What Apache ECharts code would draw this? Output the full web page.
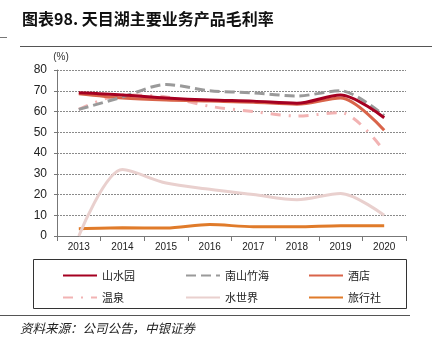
<!DOCTYPE html>
<html>
<head>
    <meta charset="utf-8">
    <title>天目湖主要业务产品毛利率</title>
    <script src="https://cdn.jsdelivr.net/npm/echarts@6/dist/echarts.min.js"></script>
    <style>
        html, body { margin: 0; padding: 0; background: #fff; }
        #chart { width: 432px; height: 351px; }
    </style>
</head>
<body>
    <div id="chart"></div>
    <script>
        var years = ['2013', '2014', '2015', '2016', '2017', '2018', '2019', '2020'];
        var shanshuiyuan = [69, 68, 66.5, 65.5, 65, 64, 68, 57];
        var nanshan = [61, 67, 73, 70, 69, 67.5, 70, 58];
        var jiudian = [68.5, 66.5, 65.5, 65, 64.5, 63.5, 66.5, 51];
        var wenquan = [61, 68, 67, 62.5, 60, 57.8, 59.5, 41];
        var shuishijie = [0, 32, 25.5, 22.5, 20, 17.5, 20.5, 10];
        var lvxingshe = [3.5, 4, 3.8, 5.5, 4.5, 4.5, 5, 5];

        var names = ['山水园', '南山竹海', '酒店', '温泉', '水世界', '旅行社'];
        var colors = ['#A50021', '#9A9A9A', '#D9644A', '#F2B3B3', '#E9D0CE', '#E07B2A'];
        var dashes = ['solid', [10, 5], 'solid', [10, 8, 2, 8], 'solid', 'solid'];
        var datas = [shanshuiyuan, nanshan, jiudian, wenquan, shuishijie, lvxingshe];

        var chart = echarts.init(document.getElementById('chart'));

        var series = [];
        var legends = [];
        var legendPos = [[57, 265], [180, 265], [303, 265], [57, 287], [180, 287], [303, 287]];
        for (var i = 0; i < names.length; i++) {
            series.push({
                name: names[i],
                type: 'line',
                data: datas[i],
                smooth: 0.3,
                symbol: 'none',
                lineStyle: { color: colors[i], width: 3, type: dashes[i] },
                itemStyle: { color: colors[i] },
                z: 10 - i
            });
            legends.push({
                data: [names[i]],
                left: legendPos[i][0],
                top: legendPos[i][1],
                itemWidth: 34,
                itemHeight: 3,
                itemGap: 2,
                itemStyle: { opacity: 0 },
                textStyle: { fontFamily: 'Noto Sans CJK SC', fontSize: 11, color: '#222' },
                selectedMode: false
            });
        }

        var option = {
            animation: false,
            grid: { left: 57, right: 26, top: 70, bottom: 115 },
            legend: legends,
            xAxis: {
                type: 'category',
                data: years,
                axisLine: { lineStyle: { color: '#777' } },
                axisTick: { show: true, length: 5, lineStyle: { color: '#777' } },
                axisLabel: { color: '#222', fontSize: 10, fontFamily: 'Liberation Sans', margin: 6 }
            },
            yAxis: {
                type: 'value',
                min: 0,
                max: 80,
                interval: 10,
                name: '(%)',
                nameGap: 8,
                nameTextStyle: { color: '#333', fontSize: 10, fontFamily: 'Liberation Sans', align: 'center', padding: [0, 0, 0, 8] },
                axisLine: { show: true, lineStyle: { color: '#777' } },
                axisTick: { show: true, length: 3, lineStyle: { color: '#777' } },
                axisLabel: { color: '#222', fontSize: 12, fontFamily: 'Liberation Sans', margin: 10 },
                splitLine: { lineStyle: { color: '#8a8a8a', type: [2, 1] } }
            },
            series: series,
            graphic: [
                {
                    type: 'text', left: 22, top: 11,
                    style: { text: '图表98. 天目湖主要业务产品毛利率', font: 'bold 16px "Noto Sans CJK SC"', fill: '#111' }
                },
                { type: 'rect', shape: { x: 20, y: 46, width: 412, height: 1 }, style: { fill: '#555' } },
                { type: 'rect', shape: { x: 0, y: 37, width: 7, height: 1 }, style: { fill: '#777' } },
                {
                    type: 'rect', shape: { x: 33.5, y: 259.5, width: 373, height: 49 },
                    style: { fill: 'none', stroke: '#333', lineWidth: 1 }
                },
                { type: 'rect', shape: { x: 0, y: 315, width: 410, height: 1 }, style: { fill: '#555' } },
                {
                    type: 'text', left: 20, top: 322,
                    style: { text: '资料来源：公司公告，中银证券', font: 'italic 12.5px "Noto Sans CJK SC"', fill: '#222' }
                }
            ]
        };
        chart.setOption(option);
    </script>
</body>
</html>
